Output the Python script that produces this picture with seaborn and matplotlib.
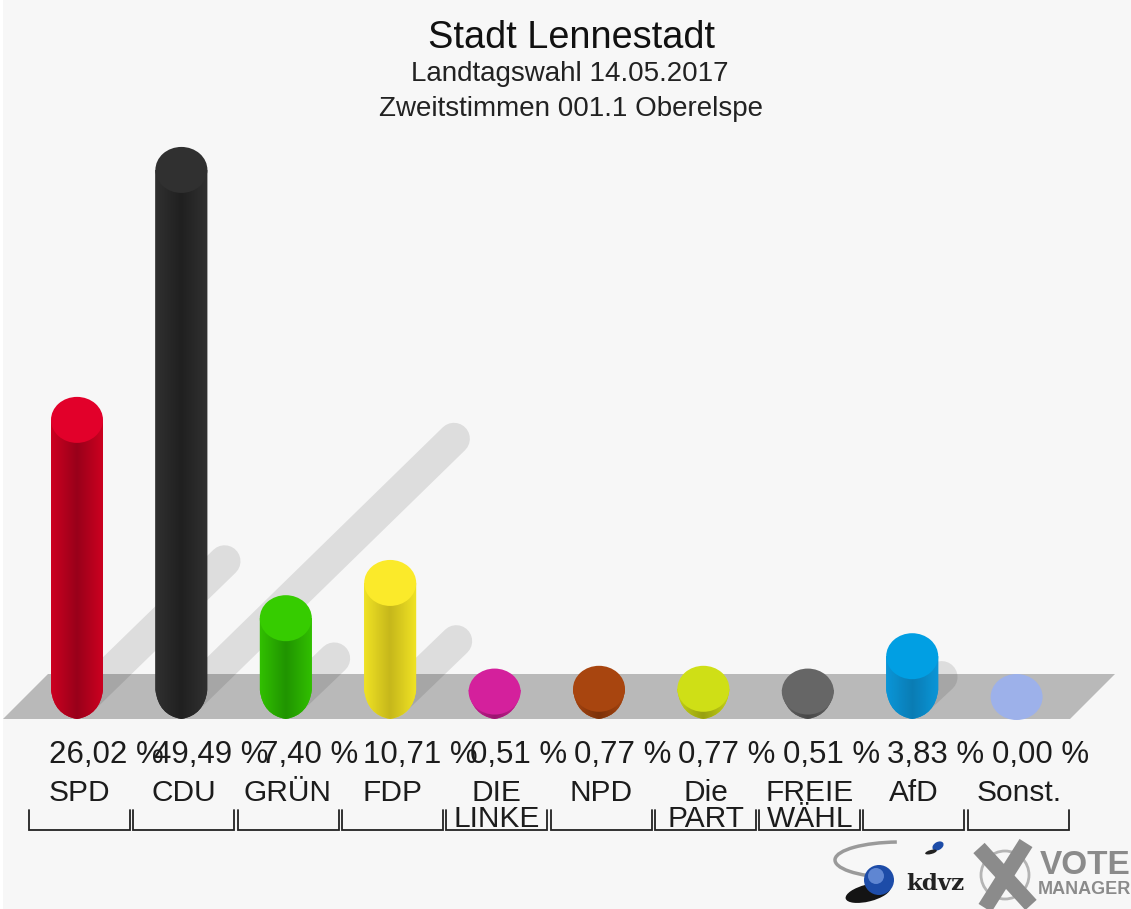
import numpy as np
import pandas as pd
import seaborn as sns
import matplotlib
matplotlib.use('Agg')
import matplotlib.pyplot as plt
from matplotlib.colors import LinearSegmentedColormap
from matplotlib.patches import Ellipse, PathPatch, Polygon, Arc, Circle
from matplotlib.path import Path

parties = ['SPD', 'CDU', 'GRÜN', 'FDP', 'DIE LINKE', 'NPD', 'Die PART', 'FREIE WÄHL', 'AfD', 'Sonst.']
axis_labels = ['SPD', 'CDU', 'GRÜN', 'FDP', 'DIE\nLINKE', 'NPD', 'Die\nPART', 'FREIE\nWÄHL', 'AfD', 'Sonst.']
values = [26.02, 49.49, 7.40, 10.71, 0.51, 0.77, 0.77, 0.51, 3.83, 0.00]
value_labels = ['26,02 %', '49,49 %', '7,40 %', '10,71 %', '0,51 %', '0,77 %', '0,77 %', '0,51 %', '3,83 %', '0,00 %']
body_colors = ['#cc0020', '#303030', '#31bf00', '#efe224', '#c81f92', '#a5440f', '#c3d015', '#636363', '#0a96d8', '#9db1ea']
center_colors = ['#98001a', '#202020', '#209400', '#c6b71b', '#9a1670', '#7c320a', '#97a010', '#484848', '#0a7cb4', '#9db1ea']
cap_colors = ['#e2002a', '#303030', '#36cc00', '#fbea2a', '#d4209c', '#a8450f', '#cfdf16', '#666666', '#019fe3', '#9db1ea']

W, H = 1131, 909
PX_PER_X = 104.4
PX_PER_PCT = 10.65
X0_PX = 77
Y0_PX = 697
BAR_W = 52 / PX_PER_X
CAP_H = 46 / PX_PER_PCT
TIP = 22 / PX_PER_PCT
SHOULDER = 7 / PX_PER_PCT

font = 'Liberation Sans'
sns.set_theme(style='white')
plt.rcParams['font.family'] = [font, 'DejaVu Sans']

fig = plt.figure(figsize=(W / 100, H / 100), dpi=100, facecolor='white')
ax = fig.add_axes([0, 0, 1, 1])
ax.set_facecolor('none')

df = pd.DataFrame({'party': parties, 'value': values})
sns.barplot(data=df, x='party', y='value', hue='party', palette=body_colors,
            width=BAR_W, gap=0, legend=False, ax=ax, zorder=3, saturation=1)
bars = list(ax.patches)

xlim = (-X0_PX / PX_PER_X, (W - X0_PX) / PX_PER_X)
ylim = ((Y0_PX - H) / PX_PER_PCT, Y0_PX / PX_PER_PCT)


def ypx(p):
    return (Y0_PX - p) / PX_PER_PCT


def xpx(p):
    return (p - X0_PX) / PX_PER_X


# page background
ax.add_patch(plt.Rectangle((xpx(3), ypx(H)), (W - 3) / PX_PER_X, H / PX_PER_PCT,
                           color='#f7f7f7', lw=0, zorder=0))

# floor
ax.add_patch(Polygon([(xpx(3), ypx(719)), (xpx(1070), ypx(719)), (xpx(1115), ypx(674)), (xpx(48), ypx(674))],
                     closed=True, color='#b9b9b9', lw=0, zorder=1))

# shadows, length follows the value
for i, v in enumerate(values):
    if v < 3:
        continue
    h = v * PX_PER_PCT
    ax.plot([i + 8 / PX_PER_X, i + (0.5 * h + 9) / PX_PER_X], [0, 0.49 * v], color='black', alpha=0.1,
            lw=23, solid_capstyle='round', zorder=2)

for i, bar in enumerate(bars):
    v = values[i]
    left, right = bar.get_x(), bar.get_x() + bar.get_width()
    c = (left + right) / 2
    bar.set_visible(False)
    if v > 0:
        top = max(v, SHOULDER)
        verts = [(left, top), (left, SHOULDER), (left + 0.03, -TIP + 0.35), (c, -TIP),
                 (right - 0.03, -TIP + 0.35), (right, SHOULDER), (right, top), (left, top)]
        codes = [Path.MOVETO, Path.LINETO, Path.CURVE3, Path.CURVE3, Path.CURVE3, Path.CURVE3,
                 Path.LINETO, Path.CLOSEPOLY]
        body = PathPatch(Path(verts, codes), facecolor=body_colors[i], edgecolor='none', zorder=3)
        ax.add_patch(body)
        cmap = LinearSegmentedColormap.from_list('b', [body_colors[i], center_colors[i], body_colors[i]])
        im = ax.imshow(np.linspace(0, 1, 64).reshape(1, -1), cmap=cmap, aspect='auto',
                       extent=(left, right, -TIP, top), zorder=4)
        im.set_clip_path(body)
    ax.add_patch(Ellipse((c, v), BAR_W, CAP_H, facecolor=cap_colors[i], edgecolor='none', zorder=5))

ax.set_xlim(xlim)
ax.set_ylim(ylim)
ax.axis('off')

# value labels and party labels
for i, lab in enumerate(value_labels):
    off = 0.285 if len(lab) == 7 else 0.225
    ax.text(i + off, ypx(755), lab, ha='center', va='center', fontsize=22.5, color='#1c1c1c', zorder=6)
    parts = axis_labels[i].split('\n')
    ax.text(i + 0.02, ypx(793), parts[0], ha='center', va='center', fontsize=21.5, color='#1c1c1c', zorder=6)
    if len(parts) > 1:
        ax.text(i + 0.02, ypx(819), parts[1], ha='center', va='center', fontsize=21.5, color='#1c1c1c', zorder=6)
    # bracket
    ax.plot([xpx(29 + i * 104.3), xpx(29 + i * 104.3), xpx(130 + i * 104.3), xpx(130 + i * 104.3)],
            [ypx(810), ypx(830), ypx(830), ypx(810)], color='#222222', lw=1.3, zorder=6, solid_joinstyle='miter')

# titles
fig.text(571 / W, 1 - 38 / H, 'Stadt Lennestadt', ha='center', va='center', fontsize=27.3, color='#111111')
fig.text(570 / W, 1 - 74 / H, 'Landtagswahl 14.05.2017', ha='center', va='center', fontsize=20, color='#222222')
fig.text(571 / W, 1 - 109 / H, 'Zweitstimmen 001.1 Oberelspe', ha='center', va='center', fontsize=20, color='#222222')

# logos, in pixel coordinates
logo = fig.add_axes([0, 0, 1, 1])
logo.set_xlim(0, W)
logo.set_ylim(H, 0)
logo.axis('off')
logo.patch.set_alpha(0)
logo.add_patch(Arc((900, 860), 130, 36, theta1=120, theta2=260, color='#9a9a9a', lw=2.5))
logo.add_patch(Ellipse((868, 893), 46, 17, angle=-14, color='#141414', lw=0))
logo.add_patch(Circle((879, 880), 15, color='#1d4ca8', lw=0))
logo.add_patch(Circle((876, 876), 8, color='#5f86d2', lw=0))
logo.add_patch(Ellipse((938, 846), 12, 8, angle=-30, color='#1d4ca8', lw=0))
logo.add_patch(Ellipse((931, 852), 12, 4, angle=-15, color='#222222', lw=0))
logo.text(935, 884, 'kdvz', ha='center', va='center', fontsize=16.5, fontweight='bold',
          family='DejaVu Serif', color='#222222')
logo.add_patch(Circle((1005, 875), 24, fill=False, edgecolor='#b4b4b4', lw=2))
logo.plot([985, 1026], [908, 843], color='#8b8b8b', lw=11, solid_capstyle='butt')
logo.plot([979, 1031], [848, 905], color='#8b8b8b', lw=11, solid_capstyle='butt')
logo.text(1040, 866, 'VOTE', ha='left', va='center', fontsize=24, fontweight='bold', color='#8b8b8b')
logo.text(1038, 890, 'MANAGER', ha='left', va='center', fontsize=13, fontweight='bold', color='#8b8b8b')

fig.savefig('out.png', dpi=100, facecolor='white')
